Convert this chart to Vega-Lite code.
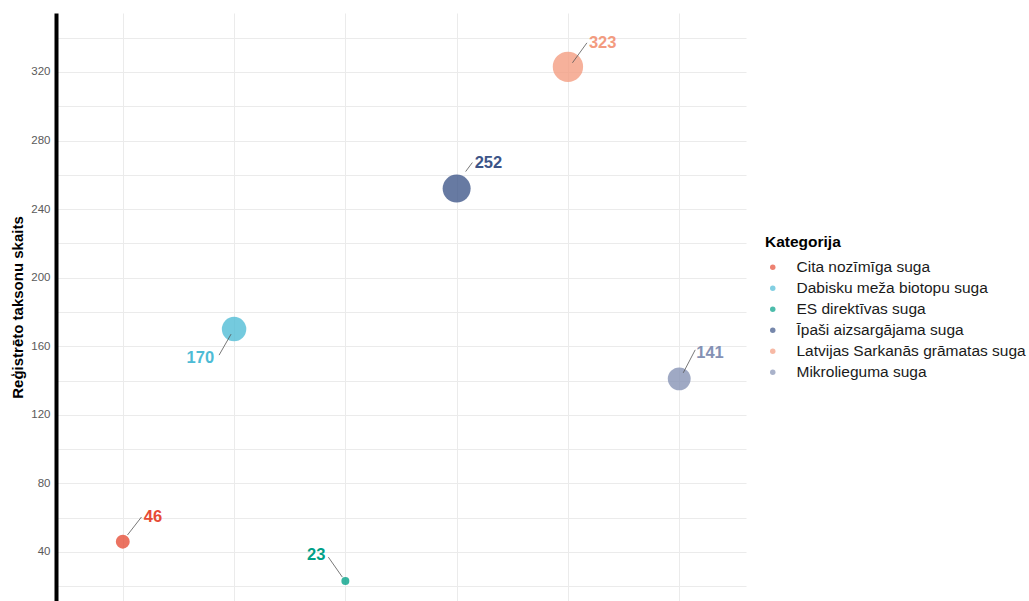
{
  "$schema": "https://vega.github.io/schema/vega-lite/v6.json",
  "autosize": "none",
  "padding": {"left": 56, "top": 13, "right": 283, "bottom": 0},
  "width": 690,
  "height": 588,
  "background": "white",
  "config": {
    "font": "Liberation Sans",
    "view": {"stroke": null}
  },
  "data": {
    "values": [
      {"kat": "Cita nozīmīga suga", "skaits": 46},
      {"kat": "Dabisku meža biotopu suga", "skaits": 170},
      {"kat": "ES direktīvas suga", "skaits": 23},
      {"kat": "Īpaši aizsargājama suga", "skaits": 252},
      {"kat": "Latvijas Sarkanās grāmatas suga", "skaits": 323},
      {"kat": "Mikrolieguma suga", "skaits": 141}
    ]
  },
  "encoding": {
    "x": {
      "field": "kat", "type": "nominal",
      "scale": {"type": "point", "padding": 0.6, "domain": ["Cita nozīmīga suga", "Dabisku meža biotopu suga", "ES direktīvas suga", "Īpaši aizsargājama suga", "Latvijas Sarkanās grāmatas suga", "Mikrolieguma suga"]},
      "axis": {"title": null, "labels": false, "ticks": false, "domain": false, "grid": true, "gridColor": "#EBEBEB", "gridWidth": 1}
    },
    "y": {
      "field": "skaits", "type": "quantitative",
      "scale": {"domain": [11.4, 354.4], "nice": false, "zero": false},
      "axis": {
        "title": "Reģistrēto taksonu skaits",
        "titleFontSize": 15, "titleFontWeight": "bold", "titleColor": "#000000", "titlePadding": 5,
        "values": [20, 40, 60, 80, 100, 120, 140, 160, 180, 200, 220, 240, 260, 280, 300, 320, 340],
        "labelExpr": "datum.value % 40 == 0 ? datum.label : ''",
        "labelFontSize": 11.5, "labelColor": "#5A5A5A", "labelPadding": 6,
        "ticks": false,
        "domain": true, "domainColor": "#000000", "domainWidth": 4,
        "grid": true, "gridColor": "#EBEBEB", "gridWidth": 1
      }
    }
  },
  "layer": [
    {
      "mark": {"type": "circle", "opacity": 0.78},
      "encoding": {
        "color": {
          "field": "kat", "type": "nominal",
          "scale": {
            "domain": ["Cita nozīmīga suga", "Dabisku meža biotopu suga", "ES direktīvas suga", "Īpaši aizsargājama suga", "Latvijas Sarkanās grāmatas suga", "Mikrolieguma suga"],
            "range": ["#E64B35", "#4DBBD5", "#00A087", "#3C5488", "#F39B7F", "#8491B4"]
          },
          "legend": {
            "title": "Kategorija", "titleFontSize": 15.5, "titleFontWeight": "bold", "titleColor": "#000000", "titlePadding": 9,
            "labelFontSize": 15.5, "labelColor": "#1A1A1A", "labelLimit": 0, "symbolType": "circle", "symbolSize": 30, "symbolOpacity": 0.7, "symbolStrokeWidth": 0,
            "rowPadding": 4, "labelOffset": 16,
            "orient": "none", "legendX": 709, "legendY": 222
          }
        },
        "size": {
          "field": "skaits", "type": "quantitative",
          "scale": {"type": "sqrt", "domain": [23, 323], "range": [64, 920], "zero": false},
          "legend": null
        }
      }
    },
    {
      "transform": [{"filter": "datum.skaits == 46"}],
      "mark": {"type": "rule", "color": "#555555", "strokeWidth": 0.8, "xOffset": 4.7, "yOffset": -6.7, "x2Offset": 18.7, "y2Offset": -24.7},
      "encoding": {"x2": {"field": "kat"}, "y2": {"field": "skaits"}}
    },
    {
      "transform": [{"filter": "datum.skaits == 170"}],
      "mark": {"type": "rule", "color": "#555555", "strokeWidth": 0.8, "xOffset": -3, "yOffset": 5, "x2Offset": -15, "y2Offset": 26},
      "encoding": {"x2": {"field": "kat"}, "y2": {"field": "skaits"}}
    },
    {
      "transform": [{"filter": "datum.skaits == 23"}],
      "mark": {"type": "rule", "color": "#555555", "strokeWidth": 0.8, "xOffset": -3, "yOffset": -4, "x2Offset": -17, "y2Offset": -24},
      "encoding": {"x2": {"field": "kat"}, "y2": {"field": "skaits"}}
    },
    {
      "transform": [{"filter": "datum.skaits == 252"}],
      "mark": {"type": "rule", "color": "#555555", "strokeWidth": 0.8, "xOffset": 9, "yOffset": -17, "x2Offset": 15.7, "y2Offset": -26},
      "encoding": {"x2": {"field": "kat"}, "y2": {"field": "skaits"}}
    },
    {
      "transform": [{"filter": "datum.skaits == 323"}],
      "mark": {"type": "rule", "color": "#555555", "strokeWidth": 0.8, "xOffset": 4.5, "yOffset": -4, "x2Offset": 19, "y2Offset": -24},
      "encoding": {"x2": {"field": "kat"}, "y2": {"field": "skaits"}}
    },
    {
      "transform": [{"filter": "datum.skaits == 141"}],
      "mark": {"type": "rule", "color": "#555555", "strokeWidth": 0.8, "xOffset": 4, "yOffset": -6, "x2Offset": 16, "y2Offset": -29},
      "encoding": {"x2": {"field": "kat"}, "y2": {"field": "skaits"}}
    },
    {
      "transform": [{"filter": "datum.skaits == 46"}],
      "mark": {"type": "text", "fontSize": 16.5, "fontWeight": "bold", "align": "left", "baseline": "middle", "dx": 21, "dy": -25},
      "encoding": {"text": {"field": "skaits"}, "color": {"field": "kat", "type": "nominal", "legend": null}}
    },
    {
      "transform": [{"filter": "datum.skaits == 170"}],
      "mark": {"type": "text", "fontSize": 16.5, "fontWeight": "bold", "align": "right", "baseline": "middle", "dx": -20, "dy": 29},
      "encoding": {"text": {"field": "skaits"}, "color": {"field": "kat", "type": "nominal", "legend": null}}
    },
    {
      "transform": [{"filter": "datum.skaits == 23"}],
      "mark": {"type": "text", "fontSize": 16.5, "fontWeight": "bold", "align": "right", "baseline": "middle", "dx": -20, "dy": -26},
      "encoding": {"text": {"field": "skaits"}, "color": {"field": "kat", "type": "nominal", "legend": null}}
    },
    {
      "transform": [{"filter": "datum.skaits == 252"}],
      "mark": {"type": "text", "fontSize": 16.5, "fontWeight": "bold", "align": "left", "baseline": "middle", "dx": 18, "dy": -26},
      "encoding": {"text": {"field": "skaits"}, "color": {"field": "kat", "type": "nominal", "legend": null}}
    },
    {
      "transform": [{"filter": "datum.skaits == 323"}],
      "mark": {"type": "text", "fontSize": 16.5, "fontWeight": "bold", "align": "left", "baseline": "middle", "dx": 21, "dy": -24},
      "encoding": {"text": {"field": "skaits"}, "color": {"field": "kat", "type": "nominal", "legend": null}}
    },
    {
      "transform": [{"filter": "datum.skaits == 141"}],
      "mark": {"type": "text", "fontSize": 16.5, "fontWeight": "bold", "align": "left", "baseline": "middle", "dx": 17, "dy": -26},
      "encoding": {"text": {"field": "skaits"}, "color": {"field": "kat", "type": "nominal", "legend": null}}
    }
  ]
}
